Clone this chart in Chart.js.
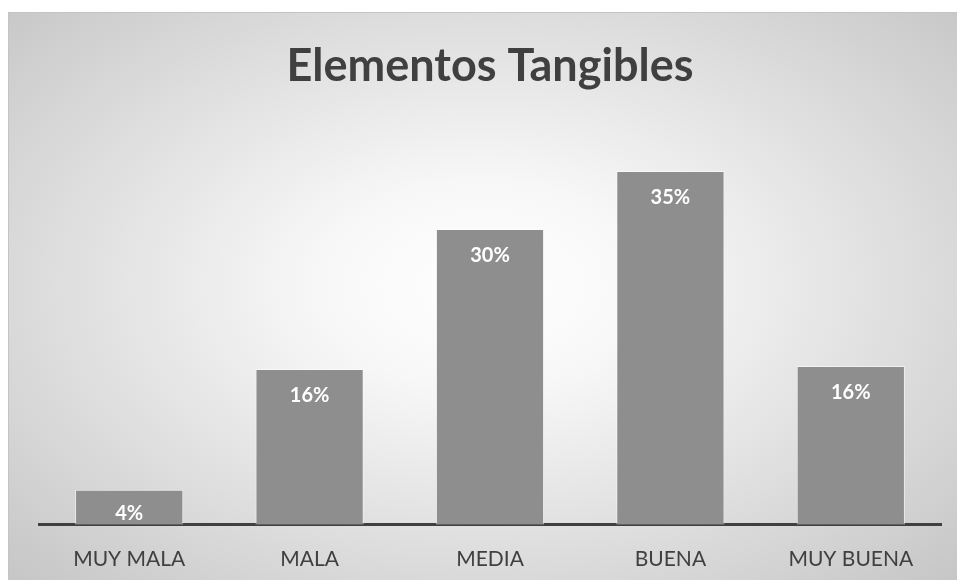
<!DOCTYPE html>
<html lang="es">
<head>
  <meta charset="UTF-8" />
  <title>Elementos Tangibles</title>
  <style>
    body { margin: 0; padding: 0; background: #fff; overflow: hidden; }
    .chart-box {
      position: absolute; left: 8px; top: 12px;
      width: 949px; height: 568px;
      border-top: 1px solid #c4c4c4; border-left: 1px solid #c4c4c4;
      box-sizing: border-box;
      background: radial-gradient(farthest-corner at 50% 48%, #ffffff 0%, #f7f7f7 25%, #c6c6c6 100%);
    }
    canvas { display: block; }
  </style>
</head>
<body>
  <div class="chart-box">
    <canvas id="chart" width="948" height="567"></canvas>
  </div>

  <script src="https://cdn.jsdelivr.net/npm/chart.js"></script>
  <script>
    // --- data ---
    const categories = ['MUY MALA', 'MALA', 'MEDIA', 'BUENA', 'MUY BUENA'];
    const percentValues = [3.5, 15.6, 29.6, 35.4, 15.9];

    // white value labels near top of each bar
    const barLabels = {
      id: 'barLabels',
      afterDatasetsDraw(chart) {
        const ctx = chart.ctx;
        const meta = chart.getDatasetMeta(0);
        ctx.save();
        ctx.fillStyle = '#ffffff';
        ctx.font = 'bold 20px Lato, "Open Sans", sans-serif';
        ctx.textAlign = 'center';
        ctx.textBaseline = 'middle';
        meta.data.forEach((bar, i) => {
          const y = Math.min(bar.y + 27, bar.base - 11);
          ctx.fillText(Math.round(percentValues[i]) + '%', bar.x, y);
        });
        ctx.restore();
      }
    };

    const ctx = document.getElementById('chart').getContext('2d');
    new Chart(ctx, {
      type: 'bar',
      data: {
        labels: categories,
        datasets: [{
          data: percentValues,
          backgroundColor: '#8e8e8e',
          borderColor: 'rgba(255,255,255,0.55)',
          borderWidth: 1,
          categoryPercentage: 1.0,
          barPercentage: 0.6
        }]
      },
      options: {
        responsive: false,
        animation: false,
        layout: { padding: { left: 30, right: 16, bottom: -14 } },
        scales: {
          x: {
            grid: { display: false, drawTicks: false },
            border: { display: true, color: '#404040', width: 3 },
            ticks: {
              color: '#404040',
              padding: 22,
              font: { family: 'Lato, "Open Sans", sans-serif', size: 21 }
            }
          },
          y: { display: false, min: 0, max: 40 }
        },
        plugins: {
          legend: { display: false },
          tooltip: { enabled: false },
          title: {
            display: true,
            text: 'Elementos Tangibles',
            color: '#404040',
            font: { family: 'Lato, "Open Sans", sans-serif', size: 45, weight: 'bold' },
            padding: { top: 26, bottom: 32 }
          }
        }
      },
      plugins: [barLabels]
    });
  </script>
</body>
</html>
